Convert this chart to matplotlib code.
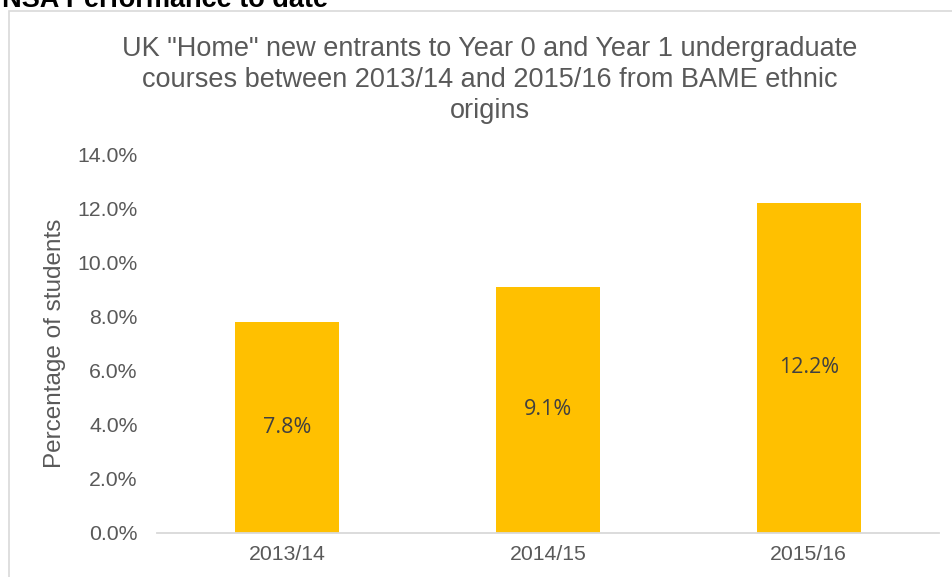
import matplotlib.pyplot as plt
from matplotlib.patches import Rectangle
from matplotlib.ticker import PercentFormatter

years = ["2013/14", "2014/15", "2015/16"]
bame_share = [7.8, 9.1, 12.2]
yticks = [0, 2, 4, 6, 8, 10, 12, 14]

fig = plt.figure(figsize=(9.53, 5.77), dpi=100)
plt.rcParams['font.family'] = ['Liberation Sans', 'DejaVu Sans']

# chart area frame
fig.patches.append(Rectangle((9 / 953, -0.1), 1.2, 1 - 11 / 577 + 0.1,
                             transform=fig.transFigure, fill=False,
                             edgecolor='#d9d9d9', linewidth=1.2))

fig.text(2 / 953, 1 - 7 / 577, "NSA Performance to date", fontsize=19.5,
         fontweight='bold', color='black', ha='left', va='baseline')

ax = fig.add_axes([157 / 953, 1 - 533 / 577, 782 / 953, (533 - 154) / 577])
x = range(len(years))
bars = ax.bar(x, bame_share, width=0.40, color='#ffc000')

for xi, v in zip(x, bame_share):
    ax.text(xi, v / 2, f"{v:.1f}%", ha='center', va='center', fontsize=15.5,
            color='#404040', family=['Open Sans', 'DejaVu Sans'])

ax.set_xlim(-0.5, 2.5)
ax.set_ylim(0, 14)
ax.set_yticks(yticks)
ax.yaxis.set_major_formatter(PercentFormatter(decimals=1))
ax.set_xticks(list(x))
ax.set_xticklabels(years)
ax.tick_params(axis='y', length=0, pad=14, labelsize=15.3, labelcolor='#595959')
ax.tick_params(axis='x', length=0, pad=9, labelsize=15.3, labelcolor='#595959')

for s in ['top', 'right', 'left']:
    ax.spines[s].set_visible(False)
ax.spines['bottom'].set_color('#d9d9d9')
ax.spines['bottom'].set_linewidth(1.3)

ax.set_ylabel("Percentage of students", fontsize=17.5, color='#595959', labelpad=8)
ax.set_title('UK "Home" new entrants to Year 0 and Year 1 undergraduate\n'
             'courses between 2013/14 and 2015/16 from BAME ethnic\norigins',
             fontsize=19.5, color='#595959', linespacing=1.24, pad=26, x=0.426)

fig.savefig("out.png", dpi=100)
